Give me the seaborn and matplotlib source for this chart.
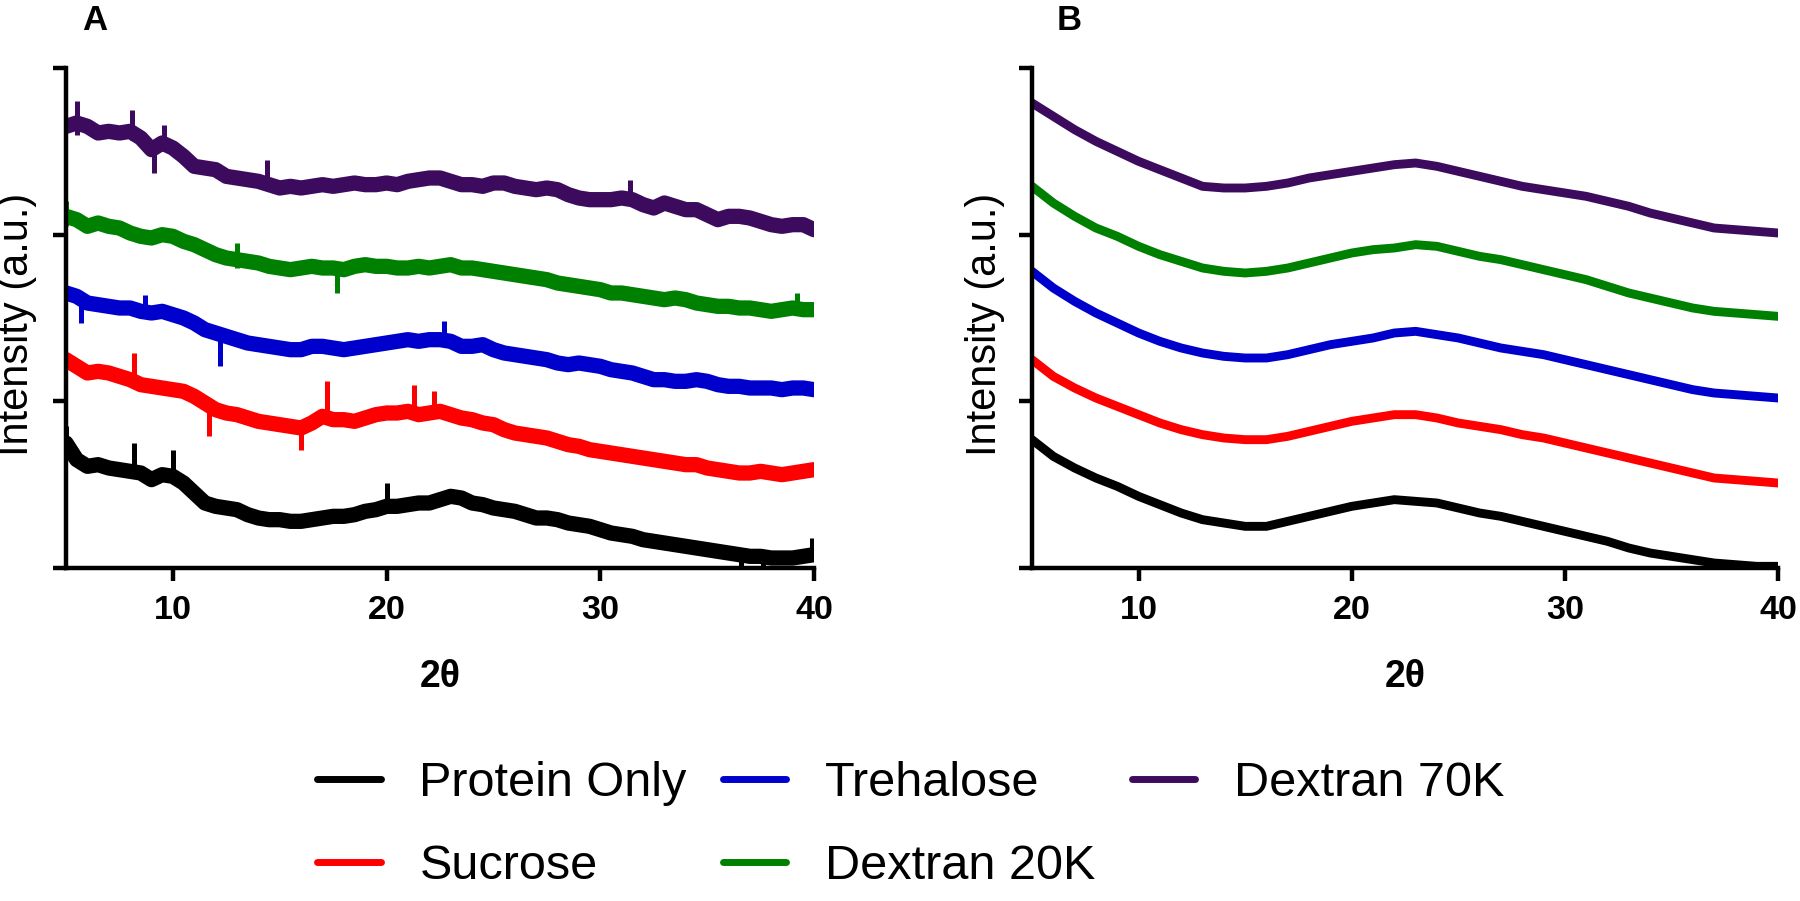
import numpy as np
import pandas as pd
import matplotlib
matplotlib.use("Agg")
import matplotlib.pyplot as plt
from matplotlib.lines import Line2D
import seaborn as sns

sns.set_style("ticks")
plt.rcParams["font.family"] = ["Liberation Sans", "DejaVu Sans"]
plt.rcParams["text.color"] = "black"
plt.rcParams["axes.labelcolor"] = "black"
plt.rcParams["xtick.color"] = "black"
plt.rcParams["ytick.color"] = "black"

# ---------------- data ----------------
SERIES = ["Protein Only", "Sucrose", "Trehalose", "Dextran 20K", "Dextran 70K"]
COLORS = ["#000000", "#FF0000", "#0000CD", "#008000", "#3D0B5E"]

XTICKS = [10, 20, 30, 40]

# Panel A (2theta sampled every 0.5 deg)
XA = [5.0, 5.5, 6.0, 6.5, 7.0, 7.5, 8.0, 8.5, 9.0, 9.5, 10.0, 10.5, 11.0, 11.5,
      12.0, 12.5, 13.0, 13.5, 14.0, 14.5, 15.0, 15.5, 16.0, 16.5, 17.0, 17.5,
      18.0, 18.5, 19.0, 19.5, 20.0, 20.5, 21.0, 21.5, 22.0, 22.5, 23.0, 23.5,
      24.0, 24.5, 25.0, 25.5, 26.0, 26.5, 27.0, 27.5, 28.0, 28.5, 29.0, 29.5,
      30.0, 30.5, 31.0, 31.5, 32.0, 32.5, 33.0, 33.5, 34.0, 34.5, 35.0, 35.5,
      36.0, 36.5, 37.0, 37.5, 38.0, 38.5, 39.0, 39.5, 40.0]

A_protein = [0.75, 0.65, 0.61, 0.62, 0.60, 0.59, 0.58, 0.57, 0.53, 0.56, 0.55,
             0.51, 0.45, 0.39, 0.37, 0.36, 0.35, 0.32, 0.30, 0.29, 0.29,
             0.28, 0.28, 0.29, 0.30, 0.31, 0.31, 0.32, 0.34, 0.35, 0.37,
             0.37, 0.38, 0.39, 0.39, 0.41, 0.43, 0.42, 0.39, 0.38, 0.36,
             0.35, 0.34, 0.32, 0.30, 0.30, 0.29, 0.27, 0.26, 0.25, 0.23,
             0.21, 0.20, 0.19, 0.17, 0.16, 0.15, 0.14, 0.13, 0.12, 0.11,
             0.10, 0.09, 0.08, 0.07, 0.07, 0.06, 0.06, 0.06, 0.07, 0.08]
A_sucrose = [1.25, 1.21, 1.17, 1.18, 1.17, 1.15, 1.13, 1.10, 1.09, 1.08, 1.07,
             1.06, 1.03, 0.99, 0.95, 0.93, 0.92, 0.90, 0.88, 0.87, 0.86,
             0.85, 0.84, 0.87, 0.91, 0.89, 0.89, 0.88, 0.90, 0.92, 0.93,
             0.93, 0.94, 0.92, 0.93, 0.94, 0.92, 0.90, 0.89, 0.87, 0.86,
             0.83, 0.81, 0.80, 0.79, 0.78, 0.76, 0.74, 0.73, 0.71, 0.70,
             0.69, 0.68, 0.67, 0.66, 0.65, 0.64, 0.63, 0.62, 0.62, 0.60,
             0.59, 0.58, 0.57, 0.57, 0.58, 0.57, 0.56, 0.57, 0.58, 0.59]
A_trehalose = [1.65, 1.63, 1.59, 1.58, 1.57, 1.56, 1.56, 1.54, 1.53, 1.54, 1.52,
               1.50, 1.47, 1.43, 1.41, 1.39, 1.37, 1.35, 1.34, 1.33, 1.32,
               1.31, 1.31, 1.33, 1.33, 1.32, 1.31, 1.32, 1.33, 1.34, 1.35,
               1.36, 1.37, 1.36, 1.37, 1.37, 1.36, 1.33, 1.33, 1.34, 1.31,
               1.29, 1.28, 1.27, 1.26, 1.25, 1.23, 1.22, 1.23, 1.22, 1.21,
               1.19, 1.18, 1.17, 1.15, 1.13, 1.13, 1.12, 1.12, 1.13, 1.12,
               1.10, 1.09, 1.09, 1.08, 1.08, 1.08, 1.07, 1.08, 1.08, 1.07]
A_dex20 = [2.11, 2.09, 2.05, 2.07, 2.05, 2.04, 2.01, 1.99, 1.98, 2.00, 1.99,
           1.96, 1.94, 1.91, 1.88, 1.86, 1.85, 1.84, 1.83, 1.81, 1.80,
           1.79, 1.80, 1.81, 1.80, 1.80, 1.79, 1.81, 1.82, 1.81, 1.81,
           1.80, 1.80, 1.81, 1.80, 1.81, 1.82, 1.80, 1.80, 1.79, 1.78,
           1.77, 1.76, 1.75, 1.74, 1.73, 1.71, 1.70, 1.69, 1.68, 1.67,
           1.65, 1.65, 1.64, 1.63, 1.62, 1.61, 1.62, 1.61, 1.59, 1.58,
           1.57, 1.57, 1.56, 1.56, 1.55, 1.54, 1.55, 1.56, 1.55, 1.55]
A_dex70 = [2.65, 2.67, 2.65, 2.61, 2.62, 2.61, 2.62, 2.58, 2.51, 2.55, 2.52,
           2.47, 2.41, 2.40, 2.39, 2.35, 2.34, 2.33, 2.32, 2.30, 2.28,
           2.29, 2.28, 2.29, 2.30, 2.29, 2.30, 2.31, 2.30, 2.30, 2.31,
           2.30, 2.32, 2.33, 2.34, 2.34, 2.32, 2.30, 2.30, 2.29, 2.31,
           2.31, 2.29, 2.28, 2.27, 2.28, 2.27, 2.24, 2.22, 2.21, 2.21,
           2.21, 2.22, 2.21, 2.18, 2.16, 2.19, 2.17, 2.15, 2.15, 2.12,
           2.09, 2.11, 2.11, 2.10, 2.08, 2.06, 2.05, 2.06, 2.06, 2.03]

# Spikes in panel A: position, lower end, upper end
SPK_protein_x = [5.0, 8.2, 10.0, 20.0, 36.6, 37.6, 39.9]
SPK_protein_lo = [0.72, 0.56, 0.52, 0.35, 0.00, 0.00, 0.06]
SPK_protein_hi = [0.85, 0.75, 0.71, 0.51, 0.10, 0.09, 0.18]
SPK_sucrose_x = [8.2, 11.7, 16.0, 17.2, 21.3, 22.2]
SPK_sucrose_lo = [1.10, 0.79, 0.71, 0.88, 0.91, 0.92]
SPK_sucrose_hi = [1.29, 0.98, 0.86, 1.12, 1.10, 1.06]
SPK_trehalose_x = [5.7, 8.7, 12.2, 22.7]
SPK_trehalose_lo = [1.47, 1.52, 1.21, 1.35]
SPK_trehalose_hi = [1.63, 1.64, 1.41, 1.48]
SPK_dex20_x = [5.0, 13.0, 17.7, 39.2]
SPK_dex20_lo = [2.05, 1.80, 1.65, 1.53]
SPK_dex20_hi = [2.20, 1.95, 1.80, 1.65]
SPK_dex70_x = [5.5, 8.1, 9.1, 9.6, 14.4, 31.4]
SPK_dex70_lo = [2.60, 2.57, 2.37, 2.50, 2.28, 2.18]
SPK_dex70_hi = [2.80, 2.75, 2.55, 2.66, 2.45, 2.33]

# Panel B (2theta sampled every 1 deg)
XB = [5, 6, 7, 8, 9, 10, 11, 12, 13, 14, 15, 16, 17, 18, 19, 20, 21, 22, 23,
      24, 25, 26, 27, 28, 29, 30, 31, 32, 33, 34, 35, 36, 37, 38, 39, 40]
B_protein = [0.77, 0.67, 0.60, 0.54, 0.49, 0.43, 0.38, 0.33, 0.29, 0.27, 0.25,
             0.25, 0.28, 0.31, 0.34, 0.37, 0.39, 0.41, 0.40, 0.39, 0.36, 0.33,
             0.31, 0.28, 0.25, 0.22, 0.19, 0.16, 0.12, 0.09, 0.07, 0.05, 0.03,
             0.02, 0.01, 0.01]
B_sucrose = [1.25, 1.15, 1.08, 1.02, 0.97, 0.92, 0.87, 0.83, 0.80, 0.78, 0.77,
             0.77, 0.79, 0.82, 0.85, 0.88, 0.90, 0.92, 0.92, 0.90, 0.87, 0.85,
             0.83, 0.80, 0.78, 0.75, 0.72, 0.69, 0.66, 0.63, 0.60, 0.57, 0.54,
             0.53, 0.52, 0.51]
B_trehalose = [1.78, 1.68, 1.60, 1.53, 1.47, 1.41, 1.36, 1.32, 1.29, 1.27, 1.26,
               1.26, 1.28, 1.31, 1.34, 1.36, 1.38, 1.41, 1.42, 1.40, 1.38, 1.35,
               1.32, 1.30, 1.28, 1.25, 1.22, 1.19, 1.16, 1.13, 1.10, 1.07, 1.05,
               1.04, 1.03, 1.02]
B_dex20 = [2.29, 2.19, 2.11, 2.04, 1.99, 1.93, 1.88, 1.84, 1.80, 1.78, 1.77,
           1.78, 1.80, 1.83, 1.86, 1.89, 1.91, 1.92, 1.94, 1.93, 1.90, 1.87,
           1.85, 1.82, 1.79, 1.76, 1.73, 1.69, 1.65, 1.62, 1.59, 1.56, 1.54,
           1.53, 1.52, 1.51]
B_dex70 = [2.79, 2.71, 2.63, 2.56, 2.50, 2.44, 2.39, 2.34, 2.29, 2.28, 2.28,
           2.29, 2.31, 2.34, 2.36, 2.38, 2.40, 2.42, 2.43, 2.41, 2.38, 2.35,
           2.32, 2.29, 2.27, 2.25, 2.23, 2.20, 2.17, 2.13, 2.10, 2.07, 2.04,
           2.03, 2.02, 2.01]

A_vals = [A_protein, A_sucrose, A_trehalose, A_dex20, A_dex70]
B_vals = [B_protein, B_sucrose, B_trehalose, B_dex20, B_dex70]
SPK = [(SPK_protein_x, SPK_protein_lo, SPK_protein_hi),
       (SPK_sucrose_x, SPK_sucrose_lo, SPK_sucrose_hi),
       (SPK_trehalose_x, SPK_trehalose_lo, SPK_trehalose_hi),
       (SPK_dex20_x, SPK_dex20_lo, SPK_dex20_hi),
       (SPK_dex70_x, SPK_dex70_lo, SPK_dex70_hi)]

# ---------------- figure ----------------
W, H = 1800, 901
fig = plt.figure(figsize=(9.0, 4.505), dpi=200)
axA = fig.add_axes([66 / W, 333 / H, 748 / W, 500 / H])
axB = fig.add_axes([1032 / W, 333 / H, 746 / W, 500 / H])

for name, col, ya, (sx, slo, shi) in zip(SERIES, COLORS, A_vals, SPK):
    dfa = pd.DataFrame({"x": XA, "y": ya})
    sns.lineplot(data=dfa, x="x", y="y", ax=axA, color=col, linewidth=5.5,
                 estimator=None, sort=False)
    axA.vlines(sx, slo, shi, color=col, linewidth=1.8)

for name, col, yb in zip(SERIES, COLORS, B_vals):
    dfb = pd.DataFrame({"x": XB, "y": yb})
    sns.lineplot(data=dfb, x="x", y="y", ax=axB, color=col, linewidth=3.2,
                 estimator=None, sort=False)

for ax in (axA, axB):
    ax.set_xlim(5, 40)
    ax.set_ylim(0, 3)
    ax.set_xticks(XTICKS)
    ax.set_xticklabels([str(t) for t in XTICKS], fontsize=12.3, fontweight="bold")
    ax.set_yticks([0, 1, 2, 3])
    ax.set_yticklabels([])
    ax.set_xlabel("")
    ax.set_ylabel("")
    for s in ("top", "right"):
        ax.spines[s].set_visible(False)
    for s in ("left", "bottom"):
        ax.spines[s].set_linewidth(1.6)
        ax.spines[s].set_color("black")
    ax.tick_params(axis="both", direction="out", length=4.7, width=1.6,
                   colors="black", pad=5)

# panel letters
fig.text(95 / W, 1 - 20 / H, "A", ha="center", va="center",
         fontsize=12.5, fontweight="bold")
fig.text(1069 / W, 1 - 20 / H, "B", ha="center", va="center",
         fontsize=12.5, fontweight="bold")

# axis labels
for xc in (17, 985):
    fig.text(xc / W, 1 - 324 / H, "Intensity (a.u.)", rotation=90,
             ha="center", va="center", fontsize=15)
for xc in (440, 1405):
    fig.text(xc / W, 1 - 677 / H, "2θ", ha="center", va="center",
             fontsize=13.5, fontweight="bold")

handles = [Line2D([], [], color=c, linewidth=2.5) for c in COLORS]
fig.legend(handles, SERIES, ncol=3, loc="center",
           bbox_to_anchor=(911 / W, 76 / H), frameon=False, fontsize=17.5,
           handlelength=1.3, handletextpad=0.8, columnspacing=0.75,
           labelspacing=0.78, borderpad=0.2)

fig.savefig("out.png", dpi=200)
